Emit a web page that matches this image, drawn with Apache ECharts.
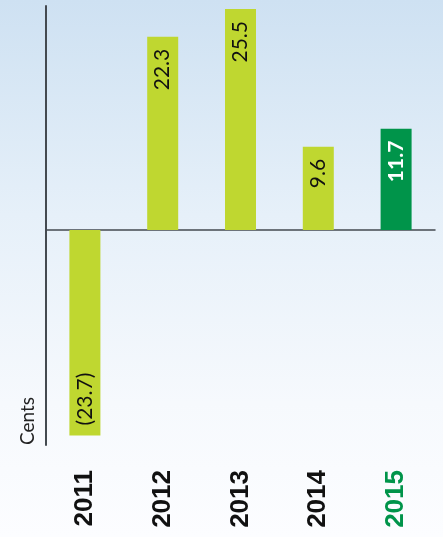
<!DOCTYPE html>
<html>
<head>
<meta charset="utf-8">
<script src="https://cdn.jsdelivr.net/npm/echarts@6/dist/echarts.min.js"></script>
<style>
html,body{margin:0;padding:0;}
#c{width:443px;height:537px;background:linear-gradient(to bottom,#cee1f2 0%,#e6f0f9 40%,#f6f9fd 75%,#fcfdff 100%);}
</style>
</head>
<body>
<div id="c"></div>
<script>
var categories = ['2011', '2012', '2013', '2014', '2015'];
var values = [-23.7, 22.3, 25.5, 9.6, 11.7];
var valueLabels = ['(23.7)', '22.3', '25.5', '9.6', '11.7'];
var axisTitle = 'Cents';

var lime = '#bfd730';
var green = '#00944a';

var chart = echarts.init(document.getElementById('c'), null, {renderer: 'canvas'});

var seriesData = values.map(function (v, i) {
  var isLast = i === values.length - 1;
  var neg = v < 0;
  return {
    value: v,
    itemStyle: {color: isLast ? green : lime},
    label: {
      show: true,
      formatter: valueLabels[i],
      position: neg ? 'insideBottom' : 'insideTop',
      distance: neg ? 10 : 12,
      rotate: 90,
      align: neg ? 'left' : 'right',
      verticalAlign: 'middle',
      color: isLast ? '#ffffff' : '#111111',
      fontWeight: isLast ? 'bold' : 'normal',
      fontFamily: 'Lato, "Noto Sans", sans-serif',
      fontSize: 21
    }
  };
});

var catData = categories.map(function (c, i) {
  return {
    value: c,
    textStyle: {color: i === categories.length - 1 ? green : '#111111'}
  };
});

chart.setOption({
  animation: false,
  grid: {left: 46, right: 8, top: 6, bottom: 92, containLabel: false},
  graphic: [{
    type: 'text',
    x: 28,
    y: 445,
    rotation: Math.PI / 2,
    style: {
      text: axisTitle,
      fontSize: 19,
      fill: '#222',
      fontFamily: 'Lato, "Noto Sans", sans-serif',
      align: 'left',
      verticalAlign: 'middle'
    }
  }],
  xAxis: [
    {
      type: 'category',
      data: catData,
      position: 'bottom',
      axisLine: {show: false, onZero: false},
      axisTick: {show: false},
      axisLabel: {
        rotate: 90,
        margin: 25,
        fontSize: 26,
        fontWeight: 'bold',
        fontFamily: '"Liberation Sans", Arial, sans-serif'
      }
    },
    {
      type: 'category',
      data: categories,
      position: 'bottom',
      axisLine: {show: true, onZero: true, lineStyle: {color: '#444a50', width: 1.5}},
      axisTick: {show: false},
      axisLabel: {show: false}
    }
  ],
  yAxis: {
    type: 'value',
    min: -24.8,
    max: 25.85,
    axisLine: {show: true, lineStyle: {color: '#444a50', width: 2}},
    axisTick: {show: false},
    axisLabel: {show: false},
    splitLine: {show: false}
  },
  series: [{
    type: 'bar',
    xAxisIndex: 0,
    barWidth: 31,
    data: seriesData
  }]
});
</script>
</body>
</html>
